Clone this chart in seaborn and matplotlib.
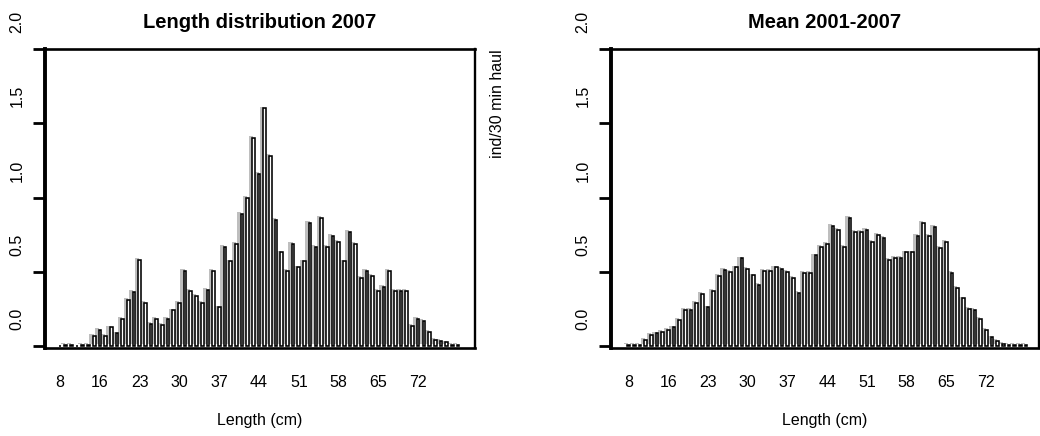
import matplotlib
matplotlib.use("Agg")
import matplotlib.pyplot as plt
import matplotlib.transforms as mtrans
import pandas as pd
import seaborn as sns

# ---------------- data ----------------
length_cm = [8, 10, 11, 12, 13, 14, 15, 16, 17, 18, 19, 20, 21, 22, 23, 24, 25, 26,
             27, 28, 29, 30, 31, 32, 33, 34, 35, 36, 37, 38, 39, 40, 41, 42, 43, 44,
             45, 46, 47, 48, 49, 50, 51, 52, 53, 54, 55, 56, 57, 58, 59, 60, 61, 62,
             63, 64, 65, 66, 67, 68, 69, 70, 71, 72, 73, 74, 75, 76, 77, 78, 79]

dist_2007 = [0.0, 0.005, 0.01, 0.0, 0.01, 0.01, 0.066, 0.11, 0.07, 0.125,
             0.085, 0.18, 0.31, 0.365, 0.58, 0.29, 0.15, 0.185, 0.14, 0.18,
             0.24, 0.29, 0.505, 0.37, 0.34, 0.29, 0.38, 0.505, 0.26, 0.67,
             0.57, 0.69, 0.89, 1.0, 1.40, 1.16, 1.60, 1.28, 0.85, 0.63,
             0.505, 0.69, 0.53, 0.57, 0.83, 0.67, 0.86, 0.67, 0.74, 0.70,
             0.57, 0.77, 0.69, 0.46, 0.505, 0.47, 0.37, 0.40, 0.505, 0.37,
             0.37, 0.37, 0.135, 0.18, 0.17, 0.095, 0.04, 0.035, 0.025, 0.01,
             0.005]

mean_2001_2007 = [0.005, 0.005, 0.005, 0.04, 0.074, 0.085, 0.095, 0.11, 0.125, 0.175,
                  0.245, 0.245, 0.29, 0.35, 0.26, 0.37, 0.47, 0.515, 0.50, 0.53,
                  0.59, 0.52, 0.475, 0.41, 0.505, 0.505, 0.53, 0.52, 0.50, 0.46,
                  0.36, 0.49, 0.49, 0.61, 0.67, 0.69, 0.81, 0.78, 0.67, 0.86,
                  0.77, 0.77, 0.78, 0.70, 0.75, 0.73, 0.58, 0.595, 0.595, 0.63,
                  0.63, 0.74, 0.83, 0.74, 0.80, 0.66, 0.70, 0.49, 0.39, 0.32,
                  0.25, 0.245, 0.18, 0.11, 0.058, 0.035, 0.012, 0.008, 0.006, 0.005,
                  0.005]

x_tick_labels = [8, 16, 23, 30, 37, 44, 51, 58, 65, 72]
y_ticks = [0.0, 0.5, 1.0, 1.5, 2.0]
y_tick_labels = ["0.0", "0.5", "1.0", "1.5", "2.0"]
titles = ["Length distribution 2007", "Mean 2001-2007"]
x_label = "Length (cm)"
y_label = "ind/30 min haul"

# ---------------- style ----------------
sns.set_theme(style="white")
plt.rcParams["font.family"] = ["Liberation Sans", "DejaVu Sans"]

W, H, DPI = 1040, 436, 100
fig = plt.figure(figsize=(W / DPI, H / DPI), dpi=DPI)

top_px, bot_px = 49, 347.5
panels = [
    dict(left=45, right=475, values=dist_2007, xlim=(-2.65, 73.0)),
    dict(left=611, right=1039, values=mean_2001_2007, xlim=(-3.1, 72.3)),
]

shadow_col = "#bebebe"
cats = [str(v) for v in length_cm]

for i, p in enumerate(panels):
    ax = fig.add_axes([p["left"] / W, 1 - bot_px / H,
                       (p["right"] - p["left"]) / W, (bot_px - top_px) / H])
    df = pd.DataFrame({"length": cats, "value": p["values"]})

    # shadow bars (grey), offset to the upper left
    sns.barplot(data=df, x="length", y="value", order=cats, ax=ax,
                color=shadow_col, saturation=1, width=0.75, errorbar=None,
                edgecolor="none", linewidth=0)
    off = mtrans.ScaledTranslation(-2.6 / DPI, 1.8 / DPI, fig.dpi_scale_trans)
    for patch in ax.containers[0]:
        patch.set_transform(ax.transData + off)

    # main bars, black outline
    sns.barplot(data=df, x="length", y="value", order=cats, ax=ax,
                color="white", saturation=1, width=0.47, errorbar=None,
                edgecolor="black", linewidth=1.15)

    ax.set_xlim(*p["xlim"])
    ax.set_ylim(-0.01, 2.0)

    xpos = [length_cm.index(v) for v in x_tick_labels]
    ax.set_xticks(xpos)
    ax.set_xticklabels([str(v) for v in x_tick_labels])
    ax.tick_params(axis="x", length=0, pad=20, labelsize=11.5, colors="black")

    ax.set_yticks(y_ticks)
    ax.set_yticklabels(y_tick_labels)
    ax.tick_params(axis="y", left=True, length=8.6, width=2.0, direction="out",
                   pad=6, labelsize=11.5, colors="black", labelrotation=90)
    yoff = mtrans.ScaledTranslation(0, 27 / DPI, fig.dpi_scale_trans)
    for lbl in ax.get_yticklabels():
        lbl.set_verticalalignment("center")
        lbl.set_horizontalalignment("right")
        lbl.set_transform(lbl.get_transform() + yoff)

    for side, lw in [("left", 2.8), ("top", 1.9), ("right", 1.7), ("bottom", 1.9)]:
        ax.spines[side].set_visible(True)
        ax.spines[side].set_color("black")
        ax.spines[side].set_linewidth(lw)

    ax.set_ylabel("")
    ax.set_xlabel(x_label, fontsize=11.5, color="black")
    ax.xaxis.set_label_coords(0.5, -(420 - bot_px) / (bot_px - top_px))
    ax.xaxis.label.set_verticalalignment("center")

    ax.text(0.5, 1 + (top_px - 22) / (bot_px - top_px),
            titles[i], transform=ax.transAxes, ha="center", va="center",
            fontsize=14.5, fontweight="bold", color="black")

fig.text(498 / W, 1 - 104 / H, y_label, rotation=90, ha="center", va="center",
         fontsize=11.5, color="black")

fig.savefig("out.png", dpi=DPI)
